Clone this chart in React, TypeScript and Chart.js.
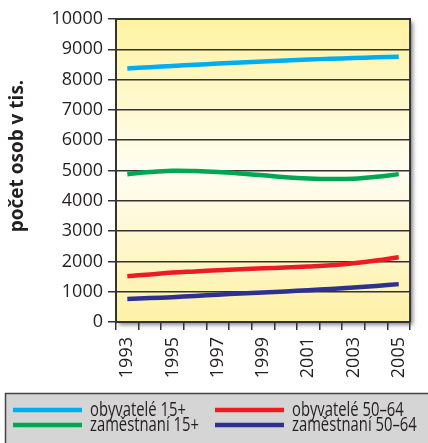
import React, { useEffect, useRef } from 'react';
import { Chart, registerables } from 'chart.js';

Chart.register(...registerables);

const years = ['1993', '1994', '1995', '1996', '1997', '1998', '1999', '2000', '2001', '2002', '2003', '2004', '2005'];
const obyvatele15 = [8370, 8410, 8450, 8490, 8530, 8565, 8600, 8630, 8660, 8690, 8710, 8735, 8755];
const obyvatele5064 = [1510, 1570, 1630, 1670, 1710, 1740, 1770, 1800, 1830, 1870, 1940, 2030, 2140];
const zamestnani15 = [4880, 4950, 4990, 4980, 4950, 4900, 4840, 4780, 4740, 4720, 4730, 4790, 4880];
const zamestnani5064 = [760, 790, 820, 860, 900, 940, 970, 1010, 1050, 1090, 1140, 1190, 1250];
const seriesNames = ['obyvatelé 15+', 'obyvatelé 50–64', 'zaměstnaní 15+', 'zaměstnaní 50–64'];
const seriesColors = ['#00AEEF', '#ED1C24', '#00A651', '#2E3192'];
const yAxisTitle = 'počet osob v tis.';
const yMin = 0;
const yMax = 10000;
const yStep = 1000;

const TICK_FONT = { family: '"Open Sans", sans-serif', size: 18 };

const plotBgPlugin = {
  id: 'plotBg',
  beforeDraw(chart: any) {
    const { ctx, chartArea: a } = chart;
    ctx.save();
    const g = ctx.createLinearGradient(0, a.top, 0, a.bottom);
    g.addColorStop(0, '#FFF3A0');
    g.addColorStop(0.5, '#FFFDF2');
    g.addColorStop(1, '#FDF1A6');
    ctx.shadowColor = 'rgba(0,0,0,0.45)';
    ctx.shadowBlur = 4;
    ctx.shadowOffsetX = 3;
    ctx.shadowOffsetY = 3;
    ctx.fillStyle = g;
    ctx.fillRect(a.left, a.top, a.right - a.left, a.bottom - a.top);
    ctx.restore();
  },
  afterDraw(chart: any) {
    const { ctx, chartArea: a } = chart;
    ctx.save();
    ctx.strokeStyle = '#333';
    ctx.lineWidth = 2;
    ctx.beginPath();
    ctx.moveTo(a.left, a.top);
    ctx.lineTo(a.right, a.top);
    ctx.lineTo(a.right, a.bottom);
    ctx.stroke();
    // y axis title
    ctx.translate(18, 156);
    ctx.rotate(-Math.PI / 2);
    ctx.fillStyle = '#231F20';
    ctx.font = 'bold 19px "Open Sans", sans-serif';
    ctx.textAlign = 'center';
    ctx.textBaseline = 'middle';
    ctx.fillText(yAxisTitle, 0, 0);
    ctx.restore();
  },
};

const legendPlugin = {
  id: 'boxLegend',
  afterDraw(chart: any) {
    const { ctx } = chart;
    ctx.save();
    ctx.fillStyle = '#D5D5D5';
    ctx.fillRect(5, 393, 430, 60);
    ctx.strokeStyle = '#444';
    ctx.lineWidth = 1.5;
    ctx.strokeRect(5.5, 393.5, 430, 60);
    const cols = [13, 215];
    const rows = [410, 425];
    ctx.textBaseline = 'middle';
    chart.data.datasets.forEach((ds: any, i: number) => {
      const x = cols[i % 2];
      const y = rows[Math.floor(i / 2)];
      ctx.strokeStyle = ds.borderColor;
      ctx.lineWidth = 4.5;
      ctx.beginPath();
      ctx.moveTo(x, y);
      ctx.lineTo(x + 69, y);
      ctx.stroke();
      ctx.save();
      ctx.translate(x + 77, y);
      ctx.scale(0.74, 1);
      ctx.font = '20px "Open Sans", sans-serif';
      ctx.fillStyle = '#231F20';
      ctx.fillText(ds.label, 0, 0);
      ctx.restore();
    });
    ctx.restore();
  },
};

export default function App() {
  const ref = useRef<HTMLCanvasElement | null>(null);
  useEffect(() => {
    if (!ref.current) return;
    const seriesData = [obyvatele15, obyvatele5064, zamestnani15, zamestnani5064];
    const chart = new Chart(ref.current, {
      type: 'line',
      data: {
        labels: years,
        datasets: seriesData.map((d, i) => ({
          label: seriesNames[i],
          data: d,
          borderColor: seriesColors[i],
          backgroundColor: seriesColors[i],
          borderWidth: 4.5,
          pointRadius: 0,
          tension: 0.4,
          fill: false,
        })),
      },
      options: {
        animation: false,
        responsive: true,
        maintainAspectRatio: false,
        layout: { padding: { top: 19, right: 17, left: 0, bottom: 0 } },
        plugins: { legend: { display: false }, tooltip: { enabled: false } },
        scales: {
          x: {
            type: 'category',
            offset: true,
            grid: {
              offset: true,
              drawOnChartArea: false,
              drawTicks: true,
              tickLength: 8,
              color: '#333',
              lineWidth: 1.5,
            },
            border: { display: true, color: '#333', width: 2 },
            ticks: {
              autoSkip: false,
              maxRotation: 90,
              minRotation: 90,
              padding: 7,
              color: '#231F20',
              font: TICK_FONT,
              callback: (_v: any, i: number) => (i % 2 === 0 ? years[i] : ''),
            },
            afterFit: (s: any) => {
              s.height = 121;
            },
          },
          y: {
            min: yMin,
            max: yMax,
            grid: { color: '#333', lineWidth: 1.5, tickLength: 8, drawTicks: true },
            border: { display: true, color: '#333', width: 2 },
            ticks: {
              stepSize: yStep,
              padding: 5,
              color: '#231F20',
              font: TICK_FONT,
              callback: (v: any) => String(v),
            },
            afterFit: (s: any) => {
              s.width = 116;
            },
          },
        },
      },
      plugins: [plotBgPlugin, legendPlugin],
    });
    return () => chart.destroy();
  }, []);
  return (
    <div style={{ position: 'absolute', left: 0, top: 0, width: 428, height: 443 }}>
      <canvas ref={ref} />
    </div>
  );
}
